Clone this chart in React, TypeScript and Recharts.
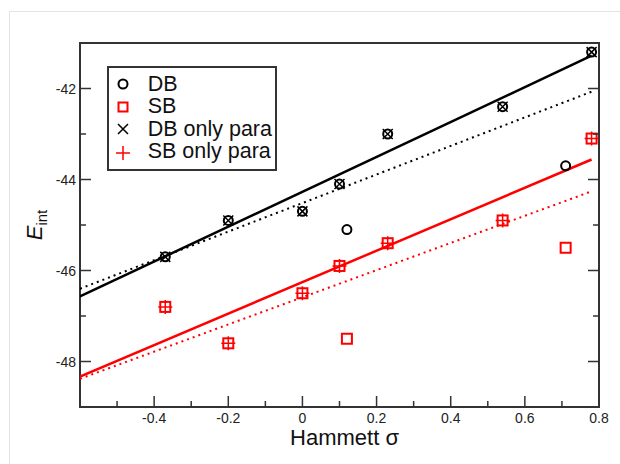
import React from 'react';
import { ComposedChart, Scatter, XAxis, YAxis, ReferenceArea, Legend } from 'recharts';

// Hammett sigma values and interaction energies (all substituents)
const sigmaAll = [-0.37, -0.2, 0, 0.1, 0.12, 0.23, 0.54, 0.71, 0.78];
const dbAll = [-45.7, -44.9, -44.7, -44.1, -45.1, -43.0, -42.4, -43.7, -41.2];
const sbAll = [-46.8, -47.6, -46.5, -45.9, -47.5, -45.4, -44.9, -45.5, -43.1];

// para substituents only
const sigmaPara = [-0.37, -0.2, 0, 0.1, 0.23, 0.54, 0.78];
const dbPara = [-45.7, -44.9, -44.7, -44.1, -43.0, -42.4, -41.2];
const sbPara = [-46.8, -47.6, -46.5, -45.9, -45.4, -44.9, -43.1];

// fitted lines, end points
const fitX = [-0.6, 0.78];
const dbParaFit = [-46.57, -41.28];
const dbAllFit = [-46.4, -42.07];
const sbParaFit = [-48.33, -43.56];
const sbAllFit = [-48.38, -44.26];

const xTicks = [-0.5, -0.4, -0.3, -0.2, -0.1, 0, 0.1, 0.2, 0.3, 0.4, 0.5, 0.6, 0.7, 0.8];
const xMajor = [-0.4, -0.2, 0, 0.2, 0.4, 0.6, 0.8];
const yTicks = [-48, -47, -46, -45, -44, -43, -42];
const yMajor = [-48, -46, -44, -42];

const legendItems = ['DB', 'SB', 'DB only para', 'SB only para'];

const pts = (xs: number[], ys: number[]) => xs.map((x, i) => ({ x, y: ys[i] }));

const FONT = '"Liberation Sans", Arial, Helvetica, sans-serif';
const AXIS = '#333';
const RED = '#ff0000';

const Circle = ({ cx, cy }: any) => (
  <circle cx={cx} cy={cy} r={4.5} fill="none" stroke="#000" strokeWidth={2} />
);
const Square = ({ cx, cy }: any) => (
  <rect x={cx - 5} y={cy - 5} width={10} height={10} fill="none" stroke={RED} strokeWidth={2} />
);
const Cross = ({ cx, cy }: any) => (
  <path d={`M${cx - 5},${cy - 5}L${cx + 5},${cy + 5}M${cx - 5},${cy + 5}L${cx + 5},${cy - 5}`} stroke="#000" strokeWidth={1.5} />
);
const Plus = ({ cx, cy }: any) => (
  <path d={`M${cx - 7},${cy}L${cx + 7},${cy}M${cx},${cy - 7}L${cx},${cy + 7}`} stroke={RED} strokeWidth={1.5} />
);
const NoDot = () => <g />;

const XTick = ({ x, y, payload }: any) => {
  const major = xMajor.includes(payload.value);
  return (
    <g>
      <line x1={x} x2={x} y1={y} y2={y - (major ? 11 : 6)} stroke={AXIS} strokeWidth={1.5} />
      {major && (
        <text x={x} y={y + 16} textAnchor="middle" fontSize={14} fontFamily={FONT} fill="#222">
          {String(payload.value)}
        </text>
      )}
    </g>
  );
};

const YTickLeft = ({ x, y, payload }: any) => {
  const major = yMajor.includes(payload.value);
  return (
    <g>
      <line x1={x} x2={x + (major ? 11 : 6)} y1={y} y2={y} stroke={AXIS} strokeWidth={1.5} />
      {major && (
        <text x={x - 4} y={y + 5} textAnchor="end" fontSize={14} fontFamily={FONT} fill="#222">
          {String(payload.value)}
        </text>
      )}
    </g>
  );
};

const YTickRight = ({ x, y, payload }: any) => {
  const major = yMajor.includes(payload.value);
  return <line x1={x} x2={x - (major ? 11 : 6)} y1={y} y2={y} stroke={AXIS} strokeWidth={1.5} />;
};

const XTitle = ({ viewBox }: any) => {
  const vb = viewBox || { x: 80, y: 407, width: 519, height: 57 };
  return (
    <text x={vb.x + vb.width / 2 + 5} y={vb.y + 38} textAnchor="middle" fontSize={22} fontFamily={FONT} fill="#111">
      Hammett σ
    </text>
  );
};

const YTitle = ({ viewBox }: any) => {
  const vb = viewBox || { x: 0, y: 43, width: 80, height: 364 };
  const cx = vb.x + 42;
  const cy = vb.y + vb.height / 2;
  return (
    <text x={cx} y={cy} transform={`rotate(-90 ${cx} ${cy})`} textAnchor="middle" fontSize={22} fontFamily={FONT} fill="#111">
      <tspan fontStyle="italic">E</tspan>
      <tspan fontSize={15} dy={5}>int</tspan>
    </text>
  );
};

const LegendIcon = ({ i }: { i: number }) => {
  const c = 10;
  return (
    <svg width={20} height={20} style={{ display: 'block' }}>
      {i === 0 && <Circle cx={c} cy={c} />}
      {i === 1 && <rect x={c - 4.5} y={c - 4.5} width={9} height={9} fill="none" stroke={RED} strokeWidth={2} />}
      {i === 2 && <Cross cx={c} cy={c} />}
      {i === 3 && <Plus cx={c} cy={c + 1} />}
    </svg>
  );
};

const LegendBox = () => (
  <div
    style={{
      border: `2px solid ${AXIS}`,
      background: '#fff',
      width: 170,
      boxSizing: 'border-box',
      padding: '4.75px 0 6.25px 3.7px',
      fontFamily: FONT,
      fontSize: 21.5,
      color: '#111',
    }}
  >
    {legendItems.map((name, i) => (
      <div key={name} style={{ display: 'flex', alignItems: 'center', height: 22.5, lineHeight: '22.5px' }}>
        <LegendIcon i={i} />
        <span style={{ marginLeft: 15, whiteSpace: 'nowrap' }}>{name}</span>
      </div>
    ))}
  </div>
);

export default function App() {
  return (
    <div style={{ position: 'fixed', left: 0, top: 0, width: 620, height: 464, overflow: 'hidden', background: '#fff' }}>
      <div
        style={{
          position: 'absolute',
          left: 9,
          top: 11,
          width: 700,
          height: 600,
          borderLeft: '1px solid #e4e4e4',
          borderTop: '1px solid #e4e4e4',
        }}
      />
      <div style={{ position: 'absolute', left: 0, top: 0 }}>
        <ComposedChart width={620} height={464} margin={{ top: 43, right: 0, bottom: 0, left: 0 }}>
          <XAxis
            type="number"
            dataKey="x"
            domain={[-0.6, 0.8]}
            ticks={xTicks}
            interval={0}
            allowDataOverflow
            height={57}
            tickSize={0}
            tickMargin={0}
            tickLine={false}
            axisLine={{ stroke: AXIS, strokeWidth: 2 }}
            tick={<XTick />}
            label={<XTitle />}
          />
          <YAxis
            yAxisId="l"
            type="number"
            dataKey="y"
            domain={[-49, -41]}
            ticks={yTicks}
            interval={0}
            allowDataOverflow
            width={80}
            tickSize={0}
            tickMargin={0}
            tickLine={false}
            axisLine={{ stroke: AXIS, strokeWidth: 2 }}
            tick={<YTickLeft />}
            label={<YTitle />}
          />
          <YAxis
            yAxisId="r"
            orientation="right"
            type="number"
            dataKey="y"
            domain={[-49, -41]}
            ticks={yTicks}
            interval={0}
            allowDataOverflow
            width={21}
            tickSize={0}
            tickMargin={0}
            tickLine={false}
            axisLine={false}
            tick={<YTickRight />}
          />
          <ReferenceArea yAxisId="l" x1={-0.6} x2={0.8} y1={-49} y2={-41} fill="none" fillOpacity={0} stroke={AXIS} strokeWidth={2} />
          <Scatter yAxisId="l" data={pts(fitX, dbAllFit)} line={{ stroke: '#000', strokeWidth: 2, strokeDasharray: '2 4' }} shape={<NoDot />} isAnimationActive={false} legendType="none" />
          <Scatter yAxisId="l" data={pts(fitX, sbAllFit)} line={{ stroke: RED, strokeWidth: 2, strokeDasharray: '2 4' }} shape={<NoDot />} isAnimationActive={false} legendType="none" />
          <Scatter yAxisId="l" data={pts(fitX, dbParaFit)} line={{ stroke: '#000', strokeWidth: 2.5 }} shape={<NoDot />} isAnimationActive={false} legendType="none" />
          <Scatter yAxisId="l" data={pts(fitX, sbParaFit)} line={{ stroke: RED, strokeWidth: 2.5 }} shape={<NoDot />} isAnimationActive={false} legendType="none" />
          <Scatter yAxisId="l" name="DB" data={pts(sigmaAll, dbAll)} shape={<Circle />} isAnimationActive={false} />
          <Scatter yAxisId="l" name="SB" data={pts(sigmaAll, sbAll)} shape={<Square />} isAnimationActive={false} />
          <Scatter yAxisId="l" name="DB only para" data={pts(sigmaPara, dbPara)} shape={<Cross />} isAnimationActive={false} />
          <Scatter yAxisId="l" name="SB only para" data={pts(sigmaPara, sbPara)} shape={<Plus />} isAnimationActive={false} />
          <Legend
            layout="horizontal"
            verticalAlign="middle"
            align="center"
            wrapperStyle={{ left: 107, top: 66, width: 170 }}
            content={<LegendBox />}
          />
        </ComposedChart>
      </div>
    </div>
  );
}
